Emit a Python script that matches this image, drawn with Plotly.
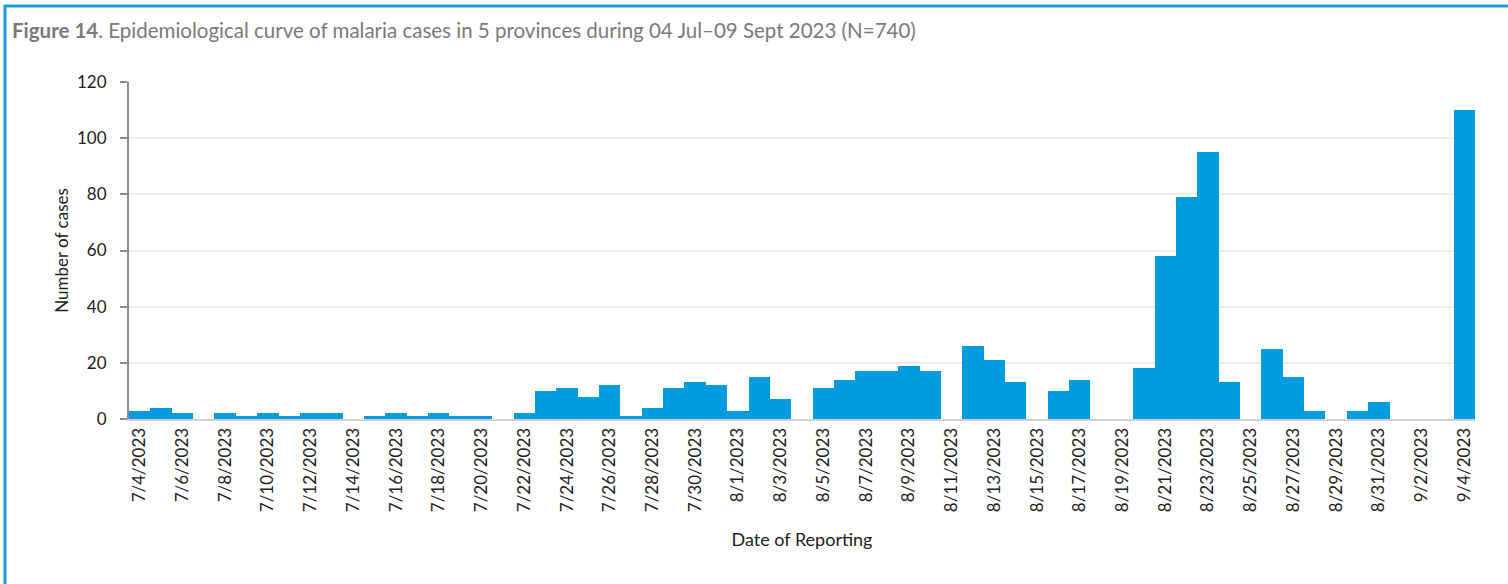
import plotly.graph_objects as go
import pandas as pd

dates = pd.date_range("2023-07-04", "2023-09-04", freq="D")
date_labels = [f"{d.month}/{d.day}/{d.year}" for d in dates]

cases_july = [3, 4, 2, 0, 2, 1, 2, 1, 2, 2,
              0, 1, 2, 1, 2, 1, 1, 0, 2, 10,
              11, 8, 12, 1, 4, 11, 13, 12]
cases_aug = [3, 15, 7, 0, 11, 14, 17, 17, 19, 17,
             0, 26, 21, 13, 0, 10, 14, 0, 0, 18,
             58, 79, 95, 13, 0, 25, 15, 3, 0, 3, 6]
cases_sep = [0, 0, 0, 110]
cases = cases_july + cases_aug + cases_sep

tick_labels = date_labels[::2]

title_text = ("<b>Figure 14</b>. Epidemiological curve of malaria cases in 5 provinces "
              "during 04 Jul\u201309 Sept 2023 (N=740)")

W, H = 1508, 584
L, R, T, B = 129, 33, 82, 165
pw, ph = W - L - R, H - T - B


def px(x):
    return (x - L) / pw


def py(y):
    return (H - B - y) / ph


fig = go.Figure()
fig.add_trace(go.Bar(
    x=date_labels, y=cases,
    marker=dict(color="#009ADE", line=dict(color="#009ADE", width=0)),
    hoverinfo="x+y",
))

font_family = "Lato, 'Open Sans', sans-serif"

fig.update_layout(
    width=W, height=H,
    margin=dict(l=L, r=R, t=T, b=B),
    paper_bgcolor="white", plot_bgcolor="white",
    bargap=0,
    showlegend=False,
    font=dict(family=font_family, color="#222222"),
    xaxis=dict(
        type="category",
        tickmode="array", tickvals=tick_labels, ticktext=tick_labels,
        tickangle=-90,
        tickfont=dict(size=17, color="#222222"),
        showgrid=False,
        showline=True, linecolor="#d0d0d0", linewidth=2,
        ticks="",
        title=dict(text="Date of Reporting", font=dict(size=18, color="#222222"), standoff=22),
    ),
    yaxis=dict(
        range=[0, 120], dtick=20,
        tickfont=dict(size=17, color="#222222"),
        showgrid=True, gridcolor="#eeeeee", gridwidth=1.5,
        showline=True, linecolor="#8c8c8c", linewidth=2,
        ticks="outside", ticklen=7, tickcolor="#8c8c8c", tickwidth=1.5,
        ticklabelstandoff=10,
        zeroline=False,
        title=dict(text="Number of cases", font=dict(size=17, color="#222222"), standoff=4),
    ),
    shapes=[
        dict(type="line", xref="paper", yref="paper",
             x0=px(5), x1=px(5), y0=py(5), y1=py(H + 5),
             line=dict(color="#1A9BD7", width=3)),
        dict(type="line", xref="paper", yref="paper",
             x0=px(4), x1=px(W + 5), y0=py(6), y1=py(6),
             line=dict(color="#1A9BD7", width=3)),
    ],
    annotations=[
        dict(text=title_text, xref="paper", yref="paper",
             x=px(10), y=py(30), xanchor="left", yanchor="middle",
             showarrow=False, font=dict(size=20.5, color="#7a7a7a", family=font_family)),
    ],
)

fig.write_html("out.html", config={"displayModeBar": False},
               post_script="document.body.style.margin='0';")
